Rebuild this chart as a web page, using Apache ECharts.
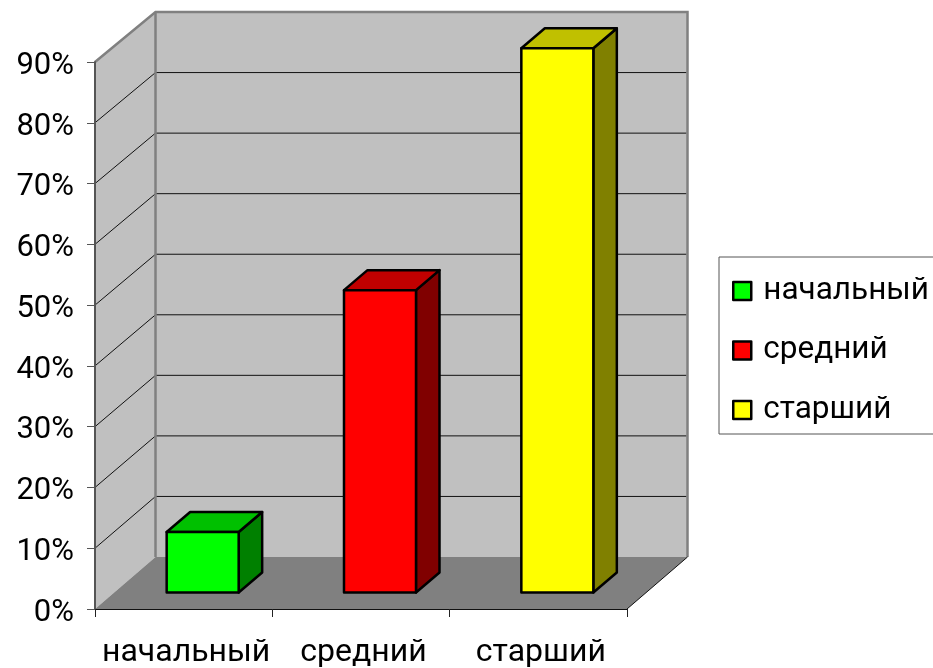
<!DOCTYPE html>
<html><head><meta charset="utf-8">
<style>html,body{margin:0;padding:0;background:#fff}#c{width:933px;height:668px}</style>
<script src="https://cdn.jsdelivr.net/npm/echarts@6/dist/echarts.min.js"></script>
</head><body><div id="c"></div>
<script>
const categories = ['начальный', 'средний', 'старший'];
const seriesNames = ['начальный', 'средний', 'старший'];
const shareValues = [10, 50, 90];
const yTicks = [0, 10, 20, 30, 40, 50, 60, 70, 80, 90];
const faceColors = ['#00FF00', '#FF0000', '#FFFF00'];
const topColors = ['#00C000', '#C00000', '#C0C000'];
const sideColors = ['#008000', '#800000', '#808000'];

const FONT = 'Roboto';
const WALL = '#C0C0C0', FLOOR = '#808080', EDGE = '#808080';

function renderWalls(params, api) {
  const cs = params.coordSys;
  const x0 = cs.x, x1 = cs.x + cs.width;
  const dx = 60.5, y0 = api.coord([0, 0])[1];
  const back = v => y0 - 52 - (y0 - api.coord([0, v])[1]) * 0.9963;
  const front = v => api.coord([0, v])[1];
  const top = yTicks[yTicks.length - 1];
  const kids = [];
  kids.push({type: 'polygon', shape: {points: [[x0, front(top)], [x0 + dx, back(top)], [x0 + dx, back(0)], [x0, front(0)]]},
    style: {fill: WALL}});
  kids.push({type: 'rect', shape: {x: x0 + dx, y: back(top), width: x1 - x0, height: back(0) - back(top)},
    style: {fill: WALL}});
  kids.push({type: 'polygon', shape: {points: [[x0, front(0)], [x1, front(0)], [x1 + dx, back(0)], [x0 + dx, back(0)]]},
    style: {fill: FLOOR}});
  yTicks.slice(1, -1).forEach(v => {
    kids.push({type: 'polyline', shape: {points: [[x0, front(v)], [x0 + dx, back(v)], [x1 + dx - 1, back(v)]]},
      style: {fill: 'none', stroke: '#111', lineWidth: 1}});
  });
  kids.push({type: 'polyline', shape: {points: [[x0, front(top)], [x0 + dx, back(top)], [x1 + dx, back(top)], [x1 + dx, back(0)]]},
    style: {fill: 'none', stroke: EDGE, lineWidth: 2.5}});
  kids.push({type: 'line', shape: {x1: x0 + dx, y1: back(top), x2: x0 + dx, y2: back(0)},
    style: {stroke: EDGE, lineWidth: 2.5}});
  kids.push({type: 'line', shape: {x1: x1, y1: front(0), x2: x1 + dx, y2: back(0)},
    style: {stroke: '#111', lineWidth: 1}});
  return {type: 'group', children: kids};
}

function makeBarRender(idx) {
  return function (params, api) {
    const c0 = api.coord([api.value(0), 0]);
    const cv = api.coord([api.value(0), api.value(1)]);
    const w = api.size([1, 0])[0] * 0.406;
    const left = c0[0] + 19 - w / 2, right = left + w;
    const bottom = c0[1] - 16.5;
    const topY = bottom - (c0[1] - cv[1]) * 0.995;
    const ox = 23.5, oy = -20;
    const st = {stroke: '#000', lineWidth: 2.5, lineJoin: 'round'};
    return {type: 'group', children: [
      {type: 'polygon', shape: {points: [[right, topY], [right + ox, topY + oy], [right + ox, bottom + oy], [right, bottom]]},
        style: Object.assign({fill: sideColors[idx]}, st)},
      {type: 'polygon', shape: {points: [[left, topY], [left + ox, topY + oy], [right + ox, topY + oy], [right, topY]]},
        style: Object.assign({fill: topColors[idx]}, st)},
      {type: 'rect', shape: {x: left, y: topY, width: w, height: bottom - topY},
        style: Object.assign({fill: faceColors[idx]}, st)}
    ]};
  };
}

const chart = echarts.init(document.getElementById('c'), null, {renderer: 'canvas'});
chart.setOption({
  animation: false,
  backgroundColor: '#fff',
  grid: {left: 95, top: 62, width: 532, height: 547, outerBoundsMode: 'none'},
  xAxis: {
    type: 'category', data: categories, z: 5,
    axisLine: {lineStyle: {color: '#111', width: 1}},
    axisTick: {show: true, alignWithLabel: false, length: 8, lineStyle: {color: '#222'}},
    axisLabel: {fontFamily: FONT, fontSize: 32, color: '#000', margin: 28, interval: 0, padding: [0, 0, 0, 5]}
  },
  yAxis: {
    type: 'value', min: 0, max: 90, interval: 10, z: 5,
    axisLine: {show: true, lineStyle: {color: '#555', width: 2}},
    axisTick: {show: true, length: 8, lineStyle: {color: '#555'}},
    splitLine: {show: false},
    axisLabel: {fontFamily: FONT, fontSize: 31, color: '#000', margin: 21, verticalAlign: 'top', lineHeight: 8, formatter: '{value}%'}
  },
  legend: {
    orient: 'vertical', left: 719, top: 257, data: seriesNames,
    backgroundColor: '#fff', borderColor: '#555', borderWidth: 1,
    padding: [18, 60, 8, 13],
    itemWidth: 18, itemHeight: 18, itemGap: 27.5, icon: 'rect',
    itemStyle: {borderColor: '#000', borderWidth: 2.5, borderJoin: 'round'},
    textStyle: {fontFamily: FONT, fontSize: 31.5, color: '#000', padding: [4, 0, 0, 7]},
    selectedMode: false
  },
  series: [
    {type: 'custom', name: 'стены', data: [[0]], renderItem: renderWalls, silent: true, z: 1, clip: false, tooltip: {show: false}}
  ].concat(seriesNames.map((n, i) => ({
    type: 'custom', name: n, data: [[i, shareValues[i]]],
    encode: {x: 0, y: 1}, renderItem: makeBarRender(i), z: 2 + i, clip: false,
    itemStyle: {color: faceColors[i]}
  })))
});
</script></body></html>
